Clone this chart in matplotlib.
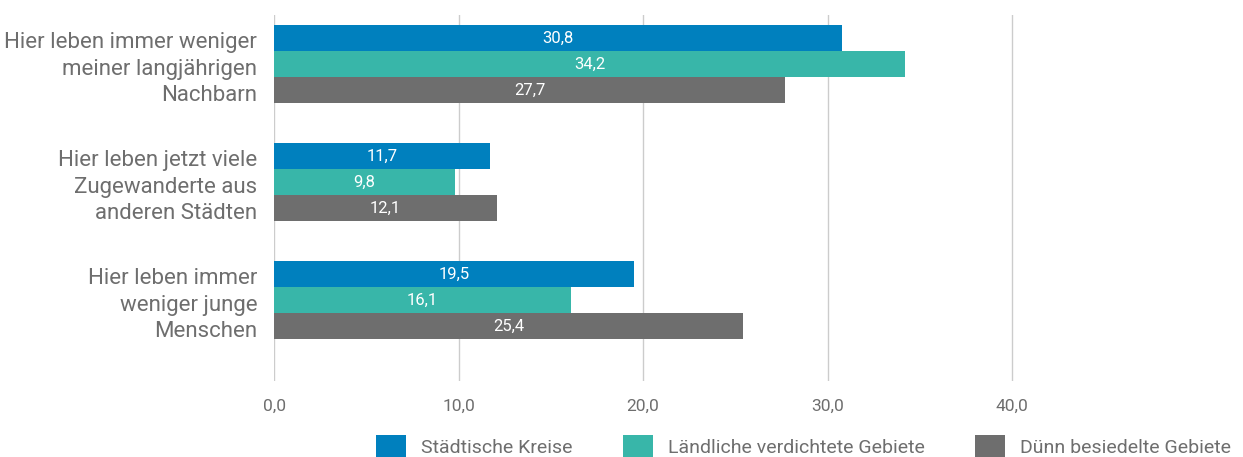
import matplotlib.pyplot as plt
import numpy as np

plt.rcParams['font.family'] = ['Roboto', 'DejaVu Sans']

categories = ['Hier leben immer weniger\nmeiner langjährigen\nNachbarn',
              'Hier leben jetzt viele\nZugewanderte aus\nanderen Städten',
              'Hier leben immer\nweniger junge\nMenschen']
series = ['Städtische Kreise', 'Ländliche verdichtete Gebiete', 'Dünn besiedelte Gebiete']
staedtisch = [30.8, 11.7, 19.5]
laendlich = [34.2, 9.8, 16.1]
duenn = [27.7, 12.1, 25.4]
colors = ['#0080BE', '#38B6A9', '#6E6E6E']
xticks = [0, 10, 20, 30, 40]

fig = plt.figure(figsize=(12.43, 4.57), dpi=100)
ax = fig.add_axes([274 / 1243, 1 - 381 / 457, (1196.5 - 274) / 1243, 366 / 457])

h = 0.2203
y = np.arange(len(categories))
txt = '#6E6E6E'
for i, (vals, c) in enumerate(zip([staedtisch, laendlich, duenn], colors)):
    pos = y + (i - 1) * h
    ax.barh(pos, vals, height=h, color=c, label=series[i], zorder=3)
    for p, v in zip(pos, vals):
        ax.text(v / 2, p, f'{v:.1f}'.replace('.', ','), ha='center', va='center',
                color='white', fontsize=12, zorder=4)

ax.set_ylim(2.686, -0.415)
ax.set_xlim(0, 50)
ax.set_xticks(xticks)
ax.set_xticklabels([f'{t:.1f}'.replace('.', ',') for t in xticks], color=txt, fontsize=12.5)
ax.set_yticks(y)
ax.set_yticklabels(categories, color=txt, fontsize=16, linespacing=1.33)
ax.tick_params(length=0, pad=12)
ax.tick_params(axis='x', pad=13)
ax.grid(axis='x', color='#CCCCCC', linewidth=1, zorder=0)
for s in ax.spines.values():
    s.set_visible(False)

leg = fig.legend(loc='center left', bbox_to_anchor=(376 / 1243, 1 - 447 / 457), ncol=3,
                 frameon=False, fontsize=14, handlelength=1.55, handleheight=1.55,
                 columnspacing=2.6, handletextpad=0.75, borderaxespad=0, borderpad=0)
for t in leg.get_texts():
    t.set_color(txt)

fig.savefig('out.png', dpi=100)
